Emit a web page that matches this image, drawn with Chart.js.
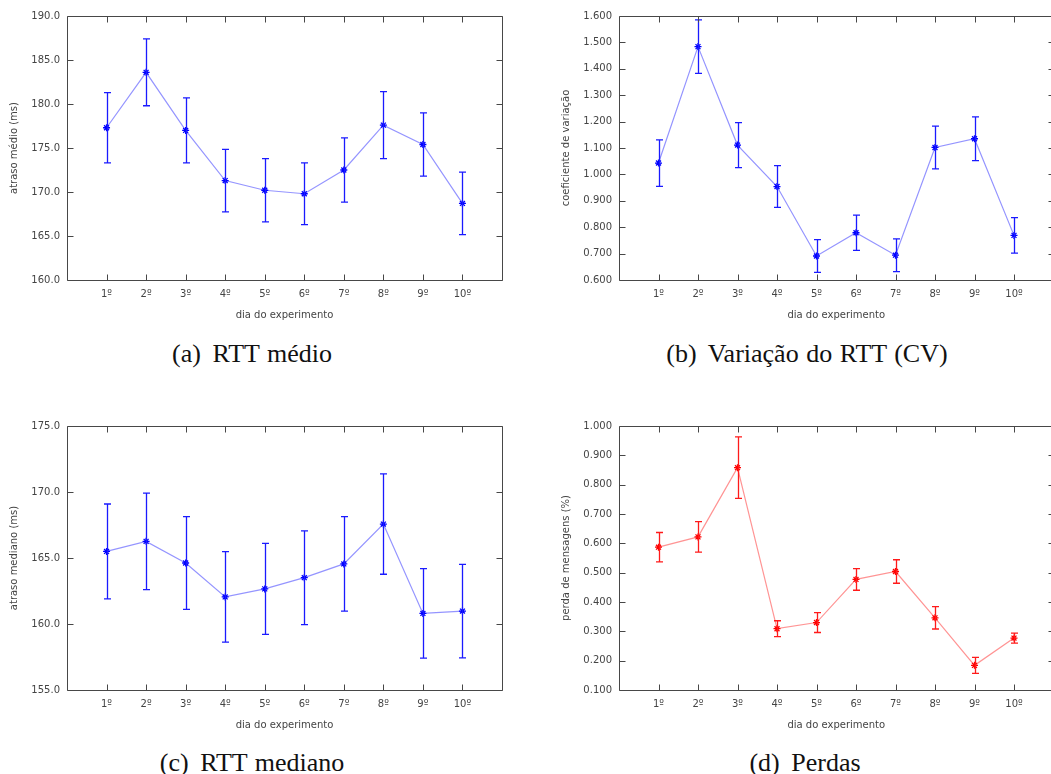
<!DOCTYPE html>
<html lang="pt">
<head>
<meta charset="utf-8">
<title>RTT por dia do experimento</title>
<script src="https://cdn.jsdelivr.net/npm/chart.js@4.4.0/dist/chart.umd.min.js"></script>
<style>
    html, body {
        margin: 0;
        padding: 0;
        background: #fff;
        width: 1051px;
        height: 774px;
        overflow: hidden;
    }
    .painel {
        position: absolute;
    }
    .legenda {
        position: absolute;
        width: 400px;
        text-align: center;
        font-family: "Liberation Serif", "DejaVu Serif", serif;
        font-size: 26px;
        line-height: 30px;
        word-spacing: 1px;
        color: #111;
        white-space: nowrap;
    }
    .legenda span {
        margin-right: 4px;
    }
</style>
</head>
<body>

<canvas id="graficoA" class="painel" width="525" height="330" style="left:0;top:0"></canvas>
<canvas id="graficoB" class="painel" width="545" height="330" style="left:525px;top:0"></canvas>
<canvas id="graficoC" class="painel" width="525" height="330" style="left:0;top:410px"></canvas>
<canvas id="graficoD" class="painel" width="545" height="330" style="left:525px;top:410px"></canvas>

<div class="legenda" style="left:52px;top:339px"><span>(a)</span> RTT médio</div>
<div class="legenda" style="left:607px;top:339px"><span>(b)</span> Variação do RTT (CV)</div>
<div class="legenda" style="left:52px;top:748px"><span>(c)</span> RTT mediano</div>
<div class="legenda" style="left:605px;top:748px"><span>(d)</span> Perdas</div>

<script>
// ========================
// DADOS
// ========================
const dias = ['1º', '2º', '3º', '4º', '5º', '6º', '7º', '8º', '9º', '10º'];

// (a) RTT médio (ms) e meia-largura do intervalo
const rttMedio = [177.3, 183.6, 177.0, 171.3, 170.2, 169.8, 172.5, 177.6, 175.4, 168.7];
const rttMedioErro = [4.0, 3.8, 3.7, 3.55, 3.6, 3.5, 3.65, 3.8, 3.6, 3.55];

// (b) coeficiente de variação
const rttCV = [1.043, 1.484, 1.111, 0.954, 0.691, 0.779, 0.694, 1.102, 1.135, 0.769];
const rttCVErro = [0.088, 0.101, 0.085, 0.079, 0.062, 0.067, 0.062, 0.081, 0.083, 0.067];

// (c) RTT mediano (ms)
const rttMediano = [165.5, 166.26, 164.62, 162.05, 162.66, 163.51, 164.55, 167.57, 160.8, 160.98];
const rttMedianoErro = [3.59, 3.65, 3.51, 3.43, 3.45, 3.55, 3.58, 3.8, 3.39, 3.54];

// (d) perda de mensagens (%)
const perdas = [0.587, 0.622, 0.858, 0.309, 0.330, 0.477, 0.504, 0.346, 0.184, 0.277];
const perdasErro = [0.050, 0.052, 0.105, 0.027, 0.034, 0.037, 0.040, 0.038, 0.027, 0.017];

// eixos y: [min, max, passo]
const eixoRttMedio = [160, 190, 5];
const eixoCV = [0.6, 1.6, 0.1];
const eixoRttMediano = [155, 175, 5];
const eixoPerdas = [0.1, 1.0, 0.1];

Chart.defaults.font.family = '"DejaVu Sans", Verdana, sans-serif';
Chart.defaults.font.size = 10;
Chart.defaults.color = '#444';

// ========================
// PLUGINS
// ========================
// moldura com marcas para dentro nos quatro lados (estilo gnuplot)
const moldura = {
    id: 'moldura',
    afterDraw(chart) {
        const ctx = chart.ctx;
        const a = chart.chartArea;
        const x = chart.scales.x;
        const y = chart.scales.y;
        const L = Math.round(a.left) + 0.5;
        const R = Math.round(a.right) + 0.5;
        const T = Math.round(a.top) + 0.5;
        const B = Math.round(a.bottom) + 0.5;

        ctx.save();
        ctx.strokeStyle = '#474747';
        ctx.lineWidth = 1;
        ctx.beginPath();
        x.ticks.forEach(function(t) {
            const px = Math.round(x.getPixelForValue(t.value)) + 0.5;
            ctx.moveTo(px, B); ctx.lineTo(px, B - 6);
            ctx.moveTo(px, T); ctx.lineTo(px, T + 6);
        });
        y.ticks.forEach(function(t) {
            const py = Math.round(y.getPixelForValue(t.value)) + 0.5;
            ctx.moveTo(L, py); ctx.lineTo(L + 6, py);
            ctx.moveTo(R, py); ctx.lineTo(R - 6, py);
        });
        ctx.rect(L, T, R - L, B - T);
        ctx.stroke();
        ctx.restore();
    }
};

// barras de erro desenhadas pelas escalas do gráfico
const barrasErro = {
    id: 'barrasErro',
    afterDatasetsDraw(chart, args, opts) {
        const ctx = chart.ctx;
        const x = chart.scales.x;
        const y = chart.scales.y;
        const dados = chart.data.datasets[0].data;

        ctx.save();
        ctx.strokeStyle = opts.cor;
        ctx.lineWidth = 1.3;
        ctx.beginPath();
        dados.forEach(function(p, i) {
            const px = Math.round(x.getPixelForValue(p.x)) + 0.5;
            const yTopo = y.getPixelForValue(p.y + opts.erro[i]);
            const yBase = y.getPixelForValue(p.y - opts.erro[i]);
            ctx.moveTo(px, yTopo); ctx.lineTo(px, yBase);
            ctx.moveTo(px - 3.5, yTopo); ctx.lineTo(px + 3.5, yTopo);
            ctx.moveTo(px - 3.5, yBase); ctx.lineTo(px + 3.5, yBase);
        });
        ctx.stroke();
        ctx.restore();
    }
};

// ========================
// GRÁFICOS
// ========================
function criarGrafico(id, valores, erros, eixo, tituloY, casas, cores, larguraY, padDireita, padTituloY) {
    const pontos = valores.map(function(v, i) {
        return { x: i + 1, y: v };
    });

    new Chart(document.getElementById(id), {
        type: 'line',
        data: {
            datasets: [{
                data: pontos,
                borderColor: cores.linha,
                borderWidth: 1.2,
                pointStyle: 'star',
                pointRadius: 3.5,
                pointBorderColor: cores.ponto,
                pointBorderWidth: 1.3,
                pointBackgroundColor: cores.ponto,
                tension: 0
            }]
        },
        plugins: [barrasErro, moldura],
        options: {
            responsive: false,
            animation: false,
            devicePixelRatio: 1,
            layout: { padding: { top: 16, right: padDireita, left: 0, bottom: 0 } },
            plugins: {
                legend: { display: false },
                tooltip: { enabled: false },
                barrasErro: { erro: erros, cor: cores.erro }
            },
            scales: {
                x: {
                    type: 'linear',
                    min: 0,
                    max: dias.length + 1,
                    afterBuildTicks: function(s) {
                        s.ticks = s.ticks.filter(function(t) {
                            return t.value >= 1 && t.value <= dias.length;
                        });
                    },
                    afterFit: function(s) { s.height = 50; },
                    ticks: {
                        stepSize: 1,
                        padding: 8,
                        maxRotation: 0,
                        autoSkip: false,
                        callback: function(v) { return dias[v - 1] || ''; }
                    },
                    grid: { display: false, drawTicks: false },
                    border: { display: false },
                    title: {
                        display: true,
                        text: 'dia do experimento',
                        padding: { top: 0, bottom: 9 }
                    }
                },
                y: {
                    min: eixo[0],
                    max: eixo[1],
                    afterFit: function(s) { s.width = larguraY; },
                    ticks: {
                        stepSize: eixo[2],
                        padding: 7,
                        callback: function(v) { return v.toFixed(casas); }
                    },
                    grid: { display: false, drawTicks: false },
                    border: { display: false },
                    title: {
                        display: true,
                        text: tituloY,
                        padding: { top: padTituloY, bottom: 0 }
                    }
                }
            }
        }
    });
}

const azul = { linha: 'rgba(60,60,255,0.55)', ponto: '#0000ff', erro: '#1a1aff' };
const vermelho = { linha: 'rgba(255,60,60,0.55)', ponto: '#ff0000', erro: '#ff1a1a' };

// ========================
// EXECUTAR
// ========================
criarGrafico('graficoA', rttMedio, rttMedioErro, eixoRttMedio, 'atraso médio (ms)', 1, azul, 67, 23, 8);
criarGrafico('graficoB', rttCV, rttCVErro, eixoCV, 'coeficiente de variação', 3, azul, 94, 16.5, 35);
criarGrafico('graficoC', rttMediano, rttMedianoErro, eixoRttMediano, 'atraso mediano (ms)', 1, azul, 67, 23, 8);
criarGrafico('graficoD', perdas, perdasErro, eixoPerdas, 'perda de mensagens (%)', 3, vermelho, 94, 16.5, 35);
</script>
</body>
</html>
